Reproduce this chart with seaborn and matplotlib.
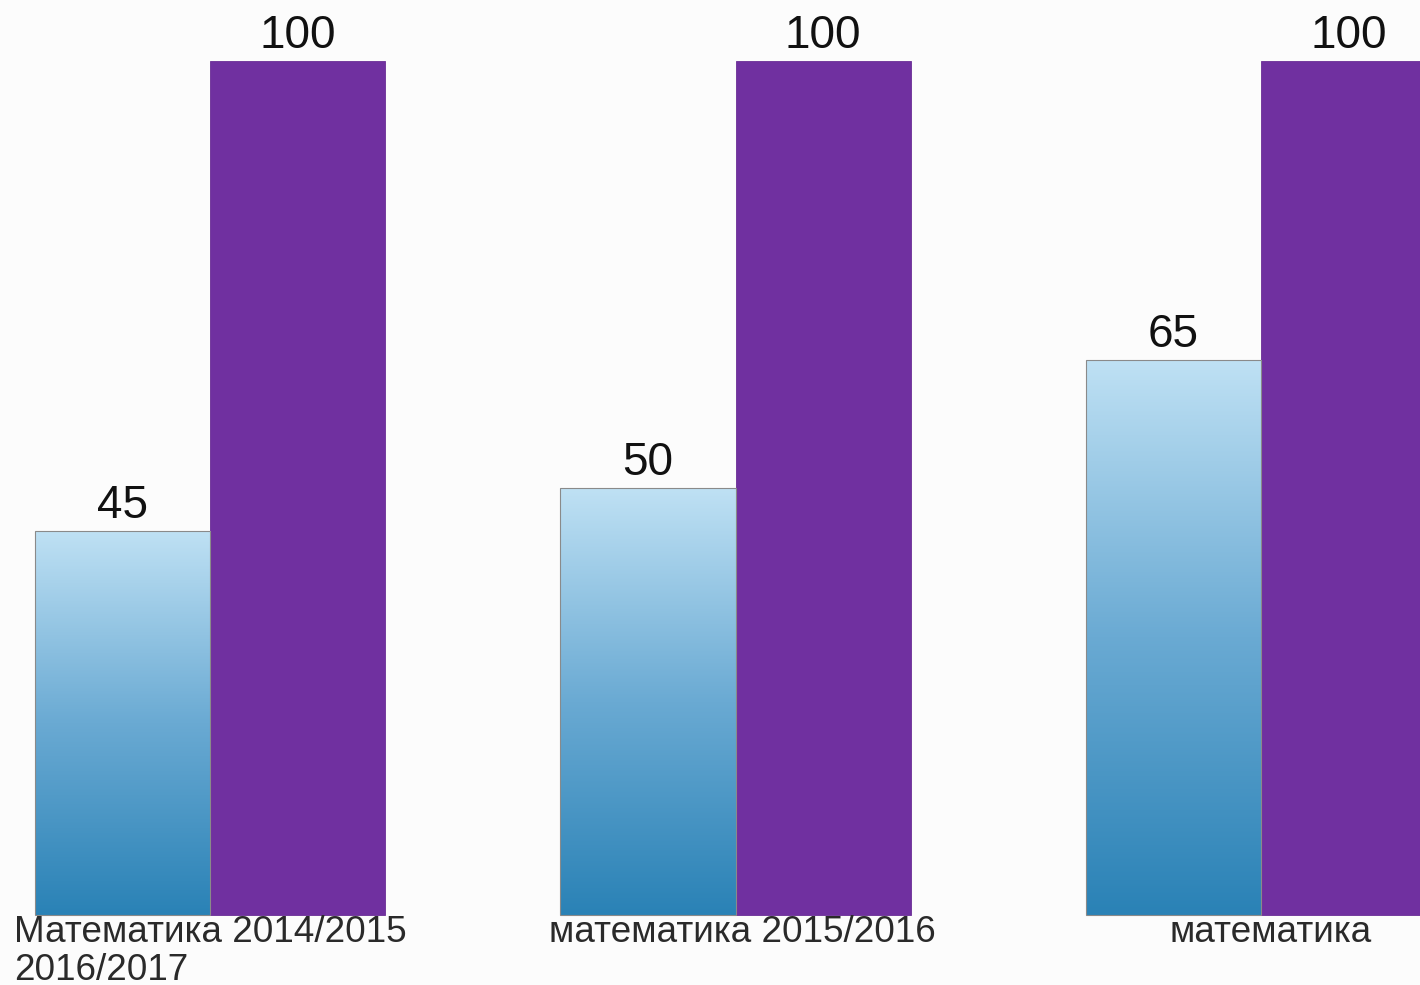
import numpy as np
import pandas as pd
import matplotlib
matplotlib.use("Agg")
import matplotlib.pyplot as plt
import seaborn as sns
from matplotlib.colors import LinearSegmentedColormap

categories = ["Математика 2014/2015\n2016/2017", "математика 2015/2016", "математика"]
series_names = ["Ряд 1", "Ряд 2"]
values_1 = [45, 50, 65]
values_2 = [100, 100, 100]

df = pd.DataFrame({
    "cat": categories * 2,
    "series": [series_names[0]] * 3 + [series_names[1]] * 3,
    "value": values_1 + values_2,
})

sns.set_theme(style="white")
plt.rcParams["font.family"] = ["Liberation Sans", "DejaVu Sans"]

fig = plt.figure(figsize=(14.2, 9.85), dpi=100)
fig.patch.set_facecolor("#fcfcfc")
ax = fig.add_axes([0, 0, 1, 1])
ax.set_facecolor("#fcfcfc")

sns.barplot(data=df, x="cat", y="value", hue="series", order=categories,
            hue_order=series_names, palette=["#9ccbe8", "#7030a0"],
            width=0.667, gap=0, dodge=True, legend=False, ax=ax,
            saturation=1, err_kws={"linewidth": 0})

cmap = LinearSegmentedColormap.from_list("bl", ["#2a82b6", "#6aaad3", "#bfe1f4"])
grad = np.linspace(0, 1, 256).reshape(-1, 1)

ax.set_xlim(-0.4, 2.3026)
ax.set_ylim(-8.2, 107.14)

for container, vals in zip(ax.containers, [values_1, values_2]):
    for patch, v in zip(container.patches, vals):
        x0 = patch.get_x(); w = patch.get_width(); h = patch.get_height()
        if container is ax.containers[0]:
            patch.set_facecolor("none")
            patch.set_edgecolor("#8a8a8a")
            patch.set_linewidth(0.8)
            patch.set_zorder(3)
            im = ax.imshow(grad, extent=[x0, x0 + w, 0, h], origin="lower",
                           cmap=cmap, aspect="auto", zorder=2)
            im.set_clip_path(patch)
        else:
            patch.set_edgecolor("#6a2d96")
            patch.set_linewidth(0.6)
        ax.text(x0 + w / 2, h + 0.3, f"{v}", ha="center", va="bottom",
                fontsize=33, color="#111111", zorder=5)

ax.set_xlim(-0.4, 2.3026)
ax.set_ylim(-8.2, 107.14)

offsets = [0.0, 0.013, 0.019]
for i, lab in enumerate(categories):
    ax.text(i + offsets[i], -0.05, lab, ha="center", va="top", fontsize=26.6,
            color="#2a2a2a", multialignment="left", linespacing=1.08, zorder=5)

ax.set_xticks([]); ax.set_yticks([])
ax.set_xlabel(""); ax.set_ylabel("")
for s in ax.spines.values():
    s.set_visible(False)

fig.savefig("out.png", dpi=100, facecolor=fig.get_facecolor())
